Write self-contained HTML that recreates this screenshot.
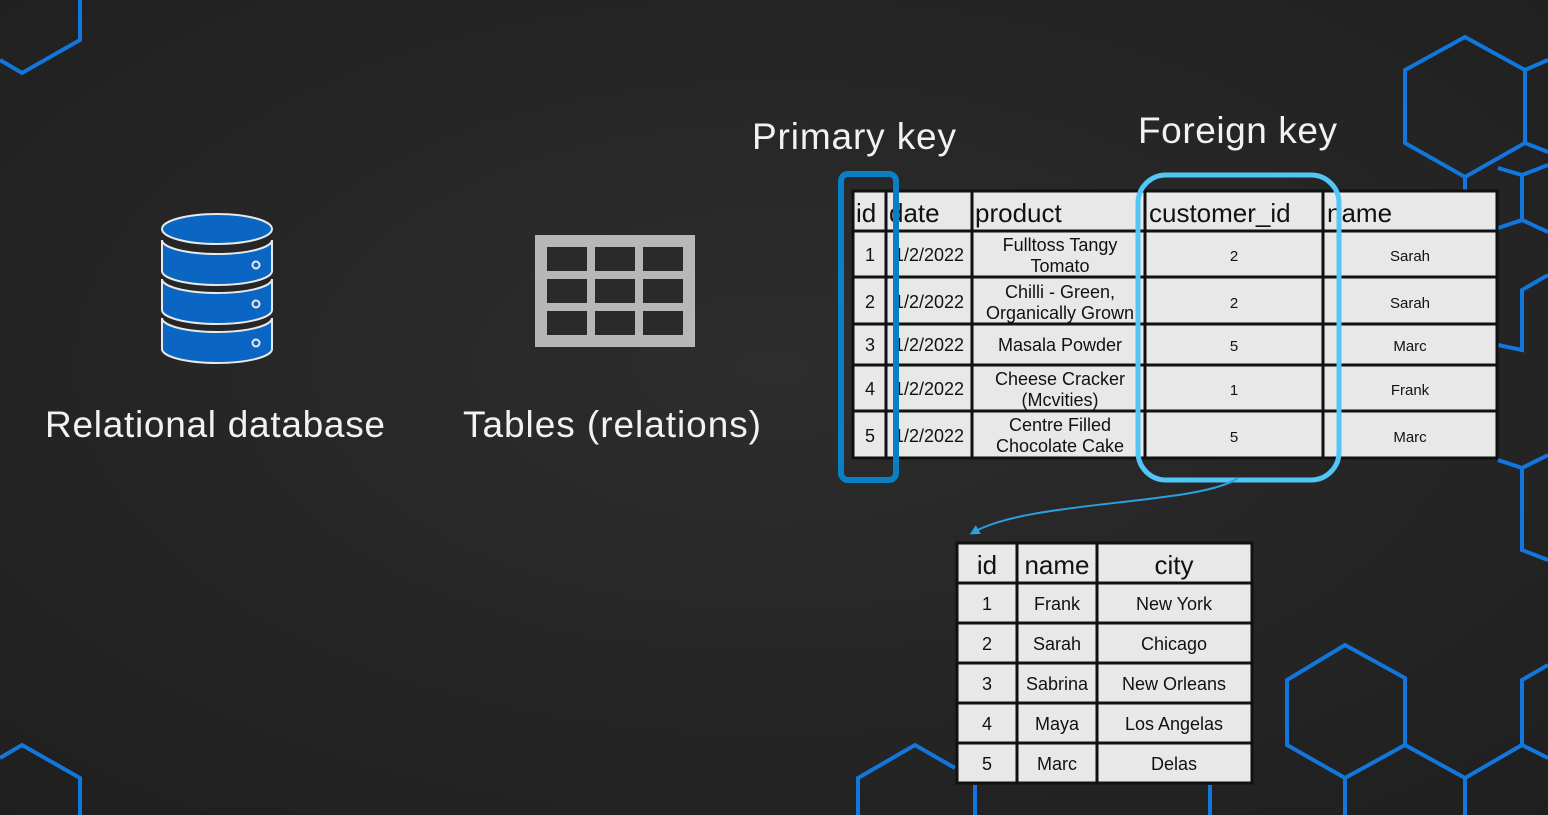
<!DOCTYPE html>
<html><head><meta charset="utf-8"><style>
html,body{margin:0;padding:0;width:1548px;height:815px;overflow:hidden;background:#262626}
svg{display:block}
text{font-family:"Liberation Sans",sans-serif}
</style></head><body>
<svg width="1548" height="815" viewBox="0 0 1548 815" xmlns="http://www.w3.org/2000/svg">
<defs>
<radialGradient id="bg" cx="0.5" cy="0.45" r="0.75">
<stop offset="0" stop-color="#2e2d2d"/><stop offset="1" stop-color="#1f1f1f"/>
</radialGradient>
<marker id="ah" markerWidth="10" markerHeight="10" refX="5" refY="5" orient="auto" markerUnits="userSpaceOnUse">
<path d="M0,0 L10,5 L0,10 z" fill="#2aa0e0"/>
</marker>
</defs>
<rect width="1548" height="815" fill="url(#bg)"/>
<g fill="none" stroke="#1177dd" stroke-width="4">
<polyline points="0,60 22,73 80,40 80,0"/>
<polyline points="0,758 22,745 80,778 80,815"/>
<polygon points="1465,37 1525,70 1525,143 1465,177 1405,143 1405,70"/>
<polyline points="1465,177 1465,190"/>
<polyline points="1525,70 1548,60"/>
<polyline points="1525,143 1548,152"/>
<polyline points="1498,168 1522,175 1548,165"/>
<polyline points="1522,175 1522,220 1498,228"/>
<polyline points="1522,220 1548,232"/>
<polyline points="1498,345 1522,350 1522,290 1548,275"/>
<polyline points="1498,460 1522,468 1522,550 1548,560"/>
<polyline points="1522,468 1548,455"/>
<polygon points="1345,645 1405,678 1405,745 1345,778 1287,745 1287,680"/>
<polyline points="1345,778 1345,815"/>
<polyline points="1405,745 1465,778 1522,745 1522,680 1548,665"/>
<polyline points="1465,778 1465,815"/>
<polyline points="1522,745 1548,758"/>
<polyline points="858,815 858,778 915,745 955,768"/>
<polyline points="975,785 975,815"/>
<polyline points="1210,785 1210,815"/>
</g>
<!-- DB icon -->
<g stroke="#e8e8e8" stroke-width="2" fill="#0a66c2">
<path d="M162,318 L162,349 A55,14 0 0 0 272,349 L272,318 A55,14 0 0 1 162,318 z"/>
<path d="M162,279 L162,310 A55,14 0 0 0 272,310 L272,279 A55,14 0 0 1 162,279 z"/>
<path d="M162,240 L162,271 A55,14 0 0 0 272,271 L272,240 A55,14 0 0 1 162,240 z"/>
<ellipse cx="217" cy="229" rx="55" ry="15"/>
<circle cx="256" cy="265" r="3.5" fill="#0a66c2"/>
<circle cx="256" cy="304" r="3.5" fill="#0a66c2"/>
<circle cx="256" cy="343" r="3.5" fill="#0a66c2"/>
</g>
<!-- table icon -->
<rect x="535" y="235" width="160" height="112" fill="#b8b7b8"/>
<g fill="#2b2a2a">
<rect x="547" y="247" width="40" height="24"/><rect x="595" y="247" width="40" height="24"/><rect x="643" y="247" width="40" height="24"/>
<rect x="547" y="279" width="40" height="24"/><rect x="595" y="279" width="40" height="24"/><rect x="643" y="279" width="40" height="24"/>
<rect x="547" y="311" width="40" height="24"/><rect x="595" y="311" width="40" height="24"/><rect x="643" y="311" width="40" height="24"/>
</g>
<g fill="#f2f2f2" font-size="37">
<text x="45" y="437" textLength="340" lengthAdjust="spacing">Relational database</text>
<text x="463" y="437" textLength="298" lengthAdjust="spacing">Tables (relations)</text>
<text x="752" y="149" textLength="204" lengthAdjust="spacing">Primary key</text>
<text x="1138" y="143" textLength="199" lengthAdjust="spacing">Foreign key</text>
</g>
<!-- main table -->
<rect x="853" y="191" width="644" height="267" fill="#e8e8e8" stroke="#111" stroke-width="3"/>
<g stroke="#111" stroke-width="3">
<line x1="886" y1="191" x2="886" y2="458"/><line x1="972" y1="191" x2="972" y2="458"/>
<line x1="1145" y1="191" x2="1145" y2="458"/><line x1="1323" y1="191" x2="1323" y2="458"/>
<line x1="853" y1="231" x2="1497" y2="231"/><line x1="853" y1="277" x2="1497" y2="277"/>
<line x1="853" y1="324" x2="1497" y2="324"/><line x1="853" y1="365" x2="1497" y2="365"/>
<line x1="853" y1="411" x2="1497" y2="411"/>
</g>
<g fill="#111" font-size="26">
<text x="856" y="222">id</text><text x="889" y="222">date</text><text x="975" y="222">product</text>
<text x="1149" y="222">customer_id</text><text x="1327" y="222">name</text>
</g>
<g fill="#111" font-size="18" text-anchor="middle">
<text x="870" y="261">1</text><text x="870" y="308">2</text><text x="870" y="351">3</text><text x="870" y="395">4</text><text x="870" y="442">5</text>
<text x="929" y="261">1/2/2022</text><text x="929" y="308">1/2/2022</text><text x="929" y="351">1/2/2022</text><text x="929" y="395">1/2/2022</text><text x="929" y="442">1/2/2022</text>
<text x="1060" y="251">Fulltoss Tangy</text><text x="1060" y="272">Tomato</text>
<text x="1060" y="298">Chilli - Green,</text><text x="1060" y="319">Organically Grown</text>
<text x="1060" y="351">Masala Powder</text>
<text x="1060" y="385">Cheese Cracker</text><text x="1060" y="406">(Mcvities)</text>
<text x="1060" y="431">Centre Filled</text><text x="1060" y="452">Chocolate Cake</text>
</g>
<g fill="#111" font-size="15" text-anchor="middle">
<text x="1234" y="261">2</text><text x="1234" y="308">2</text><text x="1234" y="351">5</text><text x="1234" y="395">1</text><text x="1234" y="442">5</text>
<text x="1410" y="261">Sarah</text><text x="1410" y="308">Sarah</text><text x="1410" y="351">Marc</text><text x="1410" y="395">Frank</text><text x="1410" y="442">Marc</text>
</g>
<rect x="841" y="174" width="55" height="306" rx="7" fill="none" stroke="#0a7fc4" stroke-width="6"/>
<rect x="1138" y="175" width="201" height="305" rx="28" fill="none" stroke="#52c6f5" stroke-width="5"/>
<path d="M1238,478 C1200,505 1030,500 974,532" fill="none" stroke="#2aa0e0" stroke-width="2" marker-end="url(#ah)"/>
<!-- customer table -->
<rect x="957" y="543" width="295" height="240" fill="#e8e8e8" stroke="#111" stroke-width="3"/>
<g stroke="#111" stroke-width="3">
<line x1="1017" y1="543" x2="1017" y2="783"/><line x1="1097" y1="543" x2="1097" y2="783"/>
<line x1="957" y1="583" x2="1252" y2="583"/><line x1="957" y1="623" x2="1252" y2="623"/>
<line x1="957" y1="663" x2="1252" y2="663"/><line x1="957" y1="703" x2="1252" y2="703"/>
<line x1="957" y1="743" x2="1252" y2="743"/>
</g>
<g fill="#111" font-size="26" text-anchor="middle">
<text x="987" y="574">id</text><text x="1057" y="574">name</text><text x="1174" y="574">city</text>
</g>
<g fill="#111" font-size="18" text-anchor="middle">
<text x="987" y="610">1</text><text x="1057" y="610">Frank</text><text x="1174" y="610">New York</text>
<text x="987" y="650">2</text><text x="1057" y="650">Sarah</text><text x="1174" y="650">Chicago</text>
<text x="987" y="690">3</text><text x="1057" y="690">Sabrina</text><text x="1174" y="690">New Orleans</text>
<text x="987" y="730">4</text><text x="1057" y="730">Maya</text><text x="1174" y="730">Los Angelas</text>
<text x="987" y="770">5</text><text x="1057" y="770">Marc</text><text x="1174" y="770">Delas</text>
</g>
</svg>
</body></html>
